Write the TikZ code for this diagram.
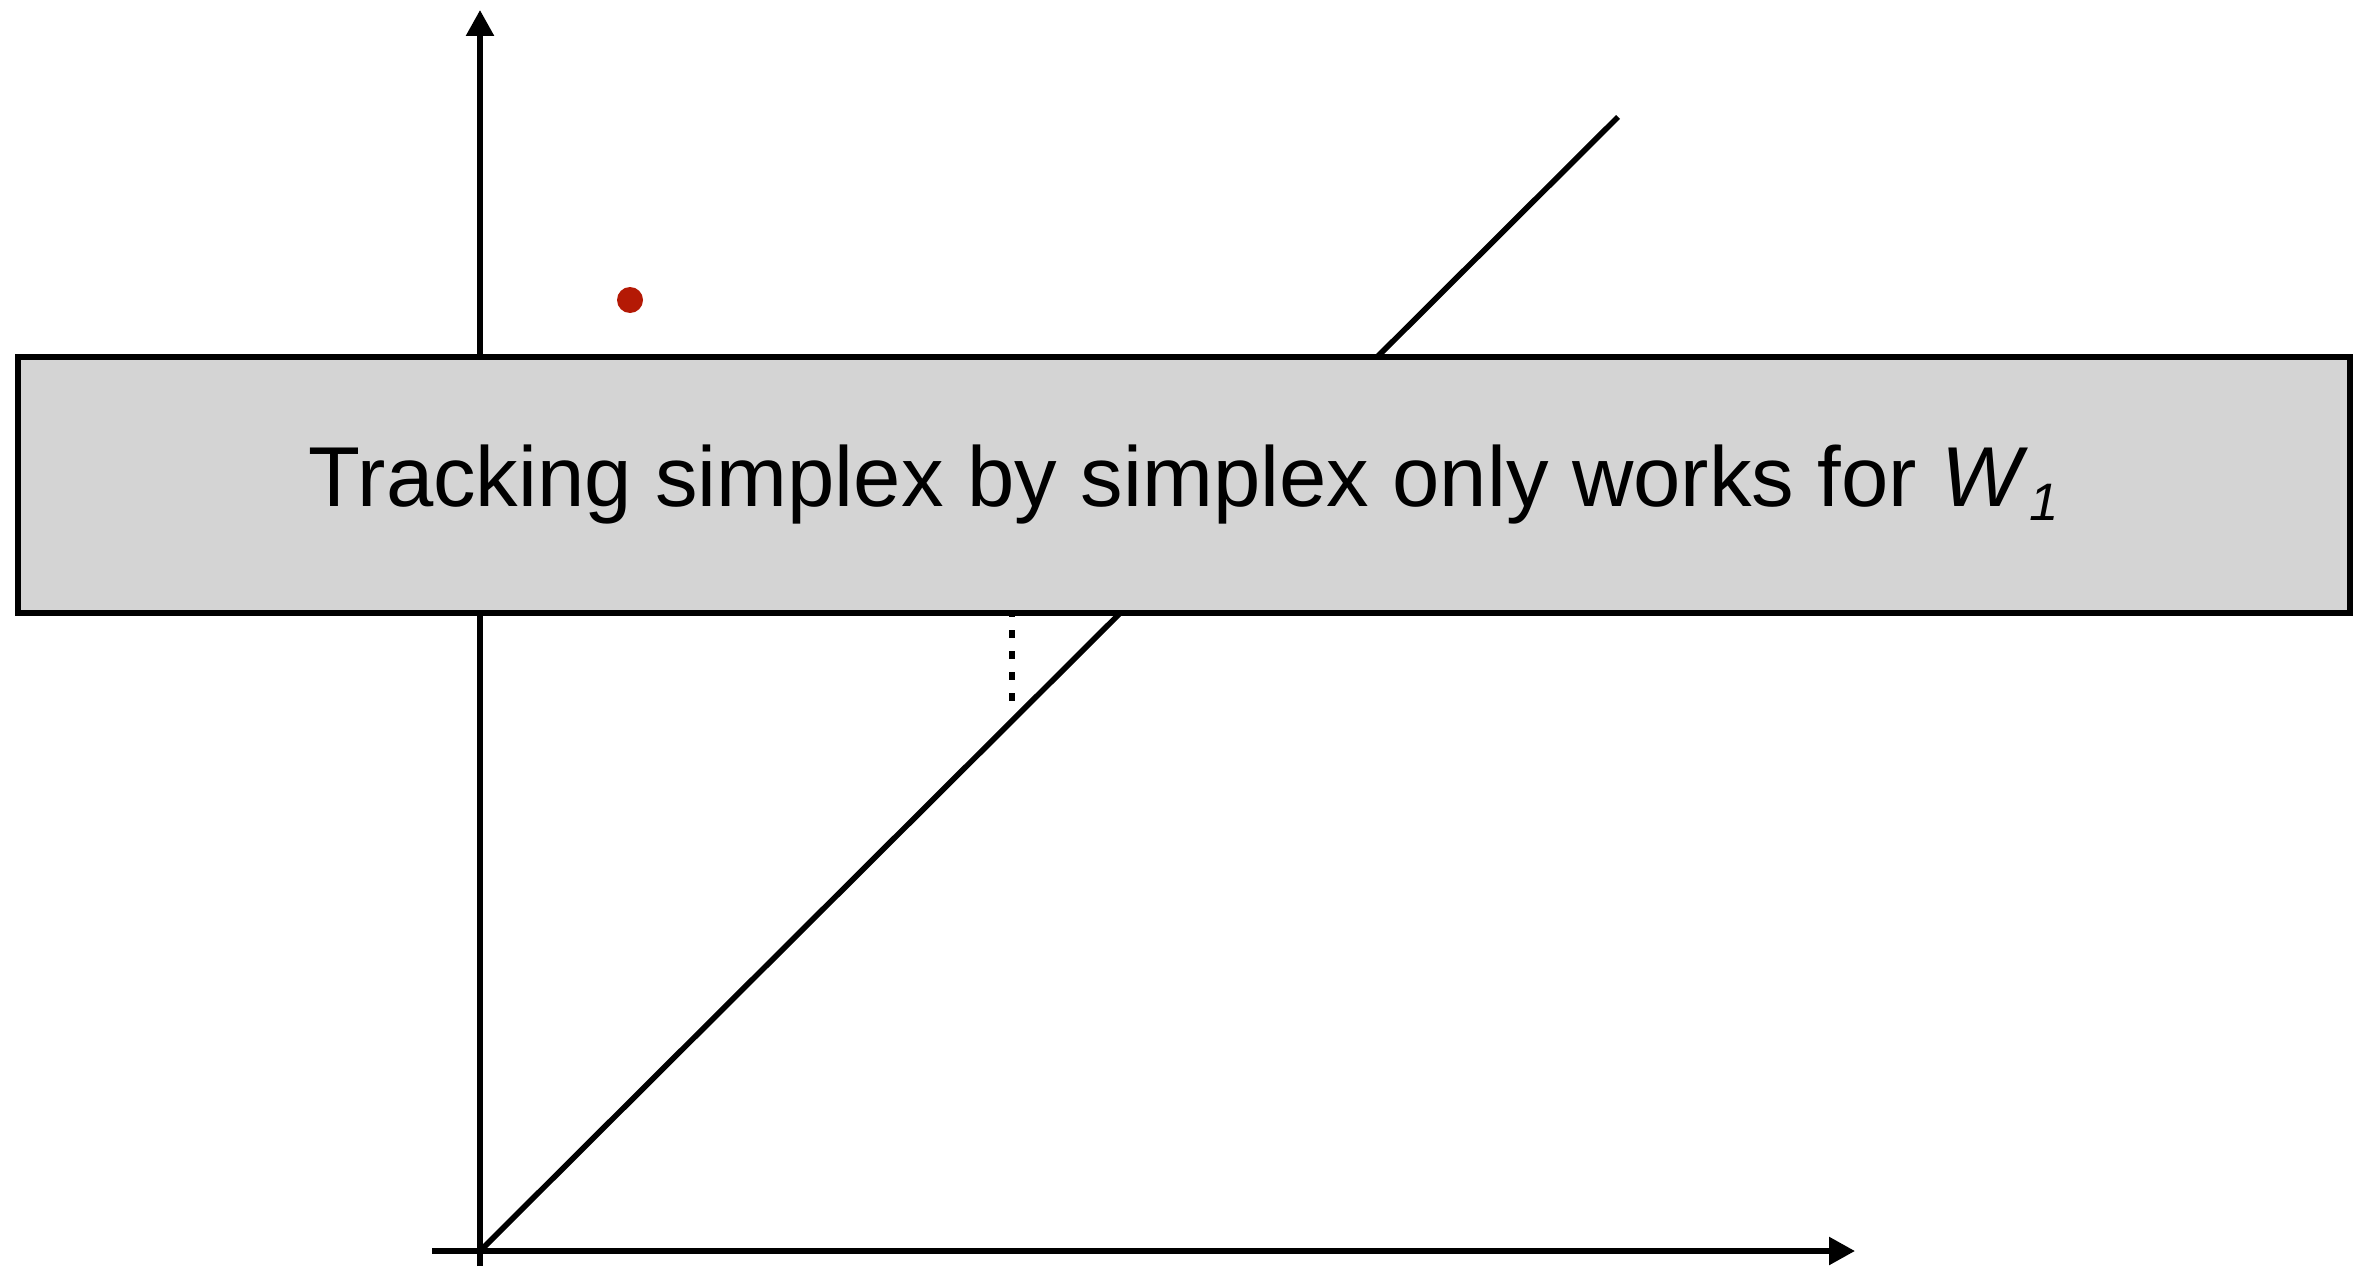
\documentclass[tikz,border=0pt]{standalone}
\usepackage{fontspec}
\setmainfont{Liberation Sans}
\usepackage{tikz}
\usetikzlibrary{arrows.meta}
\definecolor{dotred}{RGB}{180,25,5}
\definecolor{boxgray}{RGB}{212,212,212}

\begin{document}
\begin{tikzpicture}[
  x=1cm, y=1cm,
  >={Triangle[length=0.26cm, width=0.27cm]},
  axis/.style={->, line width=1.6pt, black},
  diag/.style={line width=1.6pt, black},
  hint/.style={line width=1.7pt, black, dash pattern=on 0.08cm off 0.13cm},
  banner/.style={draw=black, line width=1.6pt, fill=boxgray, minimum width=23.32cm, minimum height=2.56cm, inner sep=0pt, font=\fontsize{24.2}{29}\selectfont}
]
\useasboundingbox (0,0) rectangle (23.58,12.66);

% Axes
\coordinate (o) at (4.80,0.15);
\coordinate (ybot) at (4.80,0);
\coordinate (ytop) at (4.80,12.56);
\coordinate (xleft) at (4.32,0.15);
\coordinate (xright) at (18.55,0.15);
\draw[axis] (ybot) -- (ytop);
\draw[axis] (xleft) -- (xright);

% Diagonal
\coordinate (dend) at (16.18,11.49);
\draw[diag] (o) -- (dend);

% Point, and a drop down to the diagonal
\node[circle, fill=dotred, inner sep=0pt, minimum size=0.26cm] (pt) at (6.30,9.66) {};
\coordinate (hidden) at (10.12,7.20);
\coordinate (foot) at (10.12,5.56);
\draw[hint] (hidden) -- (foot);

% Banner on top
\node[banner] (msg) at (11.84,7.81) {Tracking simplex by simplex only works for \textit{W}\kern0.02em\raisebox{-0.16em}{\fontsize{15}{18}\selectfont\textit{1}}};
\end{tikzpicture}
\end{document}
